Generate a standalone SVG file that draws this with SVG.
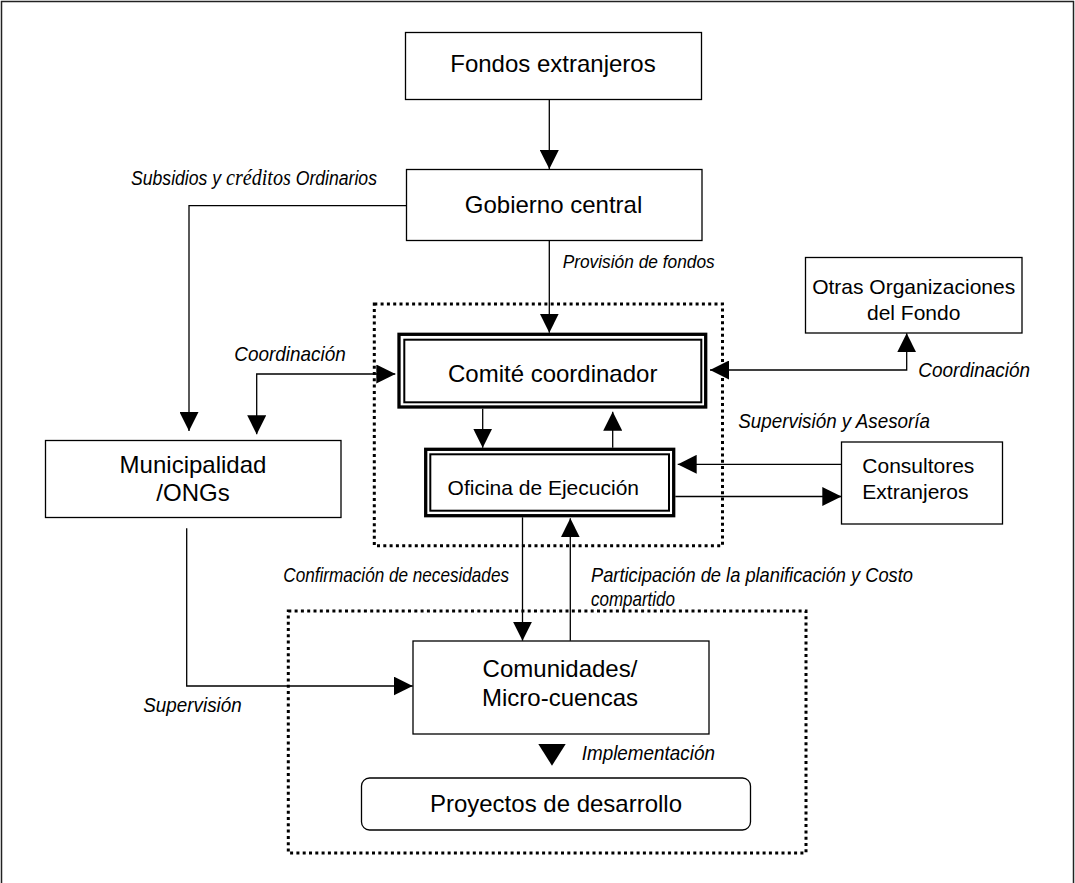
<svg xmlns="http://www.w3.org/2000/svg" width="1075" height="883" viewBox="0 0 1075 883">
<style>
.box{fill:#fff;stroke:#000;stroke-width:1.3}
.dbl-o{fill:#fff;stroke:#000;stroke-width:3.3}
.dbl-i{fill:none;stroke:#000;stroke-width:2}
.dot{fill:none;stroke:#000;stroke-width:3;stroke-dasharray:3 3.3}
.t{font-family:"Liberation Sans",Arial,sans-serif;font-size:24px;fill:#000}
.t21{font-family:"Liberation Sans",Arial,sans-serif;font-size:21px;fill:#000}
.lab{font-family:"Liberation Sans",Arial,sans-serif;font-size:21px;font-style:italic;fill:#000}
.serif{font-family:"Liberation Serif","Times New Roman",serif;font-size:24px;font-style:italic}
.c{fill:none;stroke:#000;stroke-width:1.3}
</style>
<defs>
<marker id="ah" viewBox="0 0 20 20" refX="20" refY="10" markerWidth="19" markerHeight="19" markerUnits="userSpaceOnUse" orient="auto-start-reverse">
<path d="M0,0 L20,10 L0,20 z" fill="#000"/>
</marker>
</defs>
<rect x="1.5" y="1.5" width="1072" height="900" fill="#fff" stroke="#222" stroke-width="1.5"/>

<g id="dotted-boxes">
<rect class="dot" x="374.3" y="304" width="348.2" height="241.7"/>
<rect class="dot" x="288.3" y="611" width="517.7" height="242"/>
</g>

<g id="connectors">
<path class="c" d="M549.3 100 V169" marker-end="url(#ah)"/>
<path class="c" d="M406 205.7 H189 V431" marker-end="url(#ah)"/>
<path class="c" d="M549.3 241 V332.7" marker-end="url(#ah)"/>
<path class="c" d="M256.7 434.3 V374 H395.3" marker-start="url(#ah)" marker-end="url(#ah)"/>
<path class="c" d="M906.7 333.3 V370 H710" marker-start="url(#ah)" marker-end="url(#ah)"/>
<path class="c" d="M482.7 408.7 V447.7" marker-end="url(#ah)"/>
<path class="c" d="M612.7 447.7 V411.7" marker-end="url(#ah)"/>
<path class="c" d="M841.3 464.3 H677.7" marker-end="url(#ah)"/>
<path class="c" d="M675.3 496.5 H841.3" marker-end="url(#ah)"/>
<path class="c" d="M522.5 517.3 V640.7" marker-end="url(#ah)"/>
<path class="c" d="M570.3 640.7 V518.3" marker-end="url(#ah)"/>
<path class="c" d="M186.7 528.3 V686 H412.7" marker-end="url(#ah)"/>
<polygon points="538.3,744 565.7,744 552,765.7" fill="#000"/>
</g>

<g id="labels">
<text class="lab" transform="translate(131,185) scale(0.839,1)">Subsidios y <tspan class="serif">créditos</tspan> Ordinarios</text>
<text class="lab" x="562.7" y="268" style="font-size:18px" textLength="152" lengthAdjust="spacingAndGlyphs">Provisión de fondos</text>
<text class="lab" x="234.3" y="361" textLength="111.4" lengthAdjust="spacingAndGlyphs">Coordinación</text>
<text class="lab" x="918.3" y="376.7" textLength="111.7" lengthAdjust="spacingAndGlyphs">Coordinación</text>
<text class="lab" x="738.3" y="428.3" textLength="191.7" lengthAdjust="spacingAndGlyphs">Supervisión y Asesoría</text>
<text class="lab" x="283.3" y="582" textLength="225.7" lengthAdjust="spacingAndGlyphs">Confirmación de necesidades</text>
<text class="lab" x="591" y="582" textLength="322" lengthAdjust="spacingAndGlyphs">Participación de la planificación y Costo</text>
<text class="lab" x="591" y="606" textLength="84" lengthAdjust="spacingAndGlyphs">compartido</text>
<text class="lab" x="143.3" y="711.7" textLength="98.4" lengthAdjust="spacingAndGlyphs">Supervisión</text>
<text class="lab" x="581.7" y="760" textLength="133.3" lengthAdjust="spacingAndGlyphs">Implementación</text>
</g>

<g id="fondos-extranjeros">
<rect class="box" x="405.5" y="32.5" width="296" height="67"/>
<text class="t" x="553" y="72.3" text-anchor="middle">Fondos extranjeros</text>
</g>
<g id="gobierno-central">
<rect class="box" x="406.5" y="169.5" width="295.5" height="71"/>
<text class="t" x="553.5" y="213.3" text-anchor="middle">Gobierno central</text>
</g>
<g id="comite-coordinador">
<rect class="dbl-o" x="399" y="334.3" width="306.7" height="72.7"/>
<rect class="dbl-i" x="404.3" y="339.7" width="297" height="62.6"/>
<text class="t" x="552.7" y="381.7" text-anchor="middle">Comité coordinador</text>
</g>
<g id="oficina-ejecucion">
<rect class="dbl-o" x="425.7" y="449.3" width="248" height="66.4"/>
<rect class="dbl-i" x="430.3" y="454.3" width="238.7" height="56.4"/>
<text class="t21" x="543.3" y="495" text-anchor="middle">Oficina de Ejecución</text>
</g>
<g id="otras-organizaciones">
<rect class="box" x="805.5" y="257.5" width="216.5" height="75.5"/>
<text class="t21" x="913.7" y="294" text-anchor="middle">Otras Organizaciones</text>
<text class="t21" x="913.7" y="320" text-anchor="middle">del Fondo</text>
</g>
<g id="municipalidad">
<rect class="box" x="45.5" y="440.5" width="295.5" height="77"/>
<text class="t" x="193" y="472.7" text-anchor="middle">Municipalidad</text>
<text class="t" x="193" y="501" text-anchor="middle">/ONGs</text>
</g>
<g id="consultores">
<rect class="box" x="841.5" y="442" width="161" height="82"/>
<text class="t21" x="862.3" y="473.3">Consultores</text>
<text class="t21" x="862.3" y="499.3">Extranjeros</text>
</g>
<g id="comunidades">
<rect class="box" x="413" y="641" width="296" height="93"/>
<text class="t" x="560" y="677.3" text-anchor="middle">Comunidades/</text>
<text class="t" x="560" y="706" text-anchor="middle">Micro-cuencas</text>
</g>
<g id="proyectos">
<rect class="box" x="361.5" y="778" width="389" height="52" rx="8" ry="8"/>
<text class="t" x="556" y="812.3" text-anchor="middle">Proyectos de desarrollo</text>
</g>
</svg>
